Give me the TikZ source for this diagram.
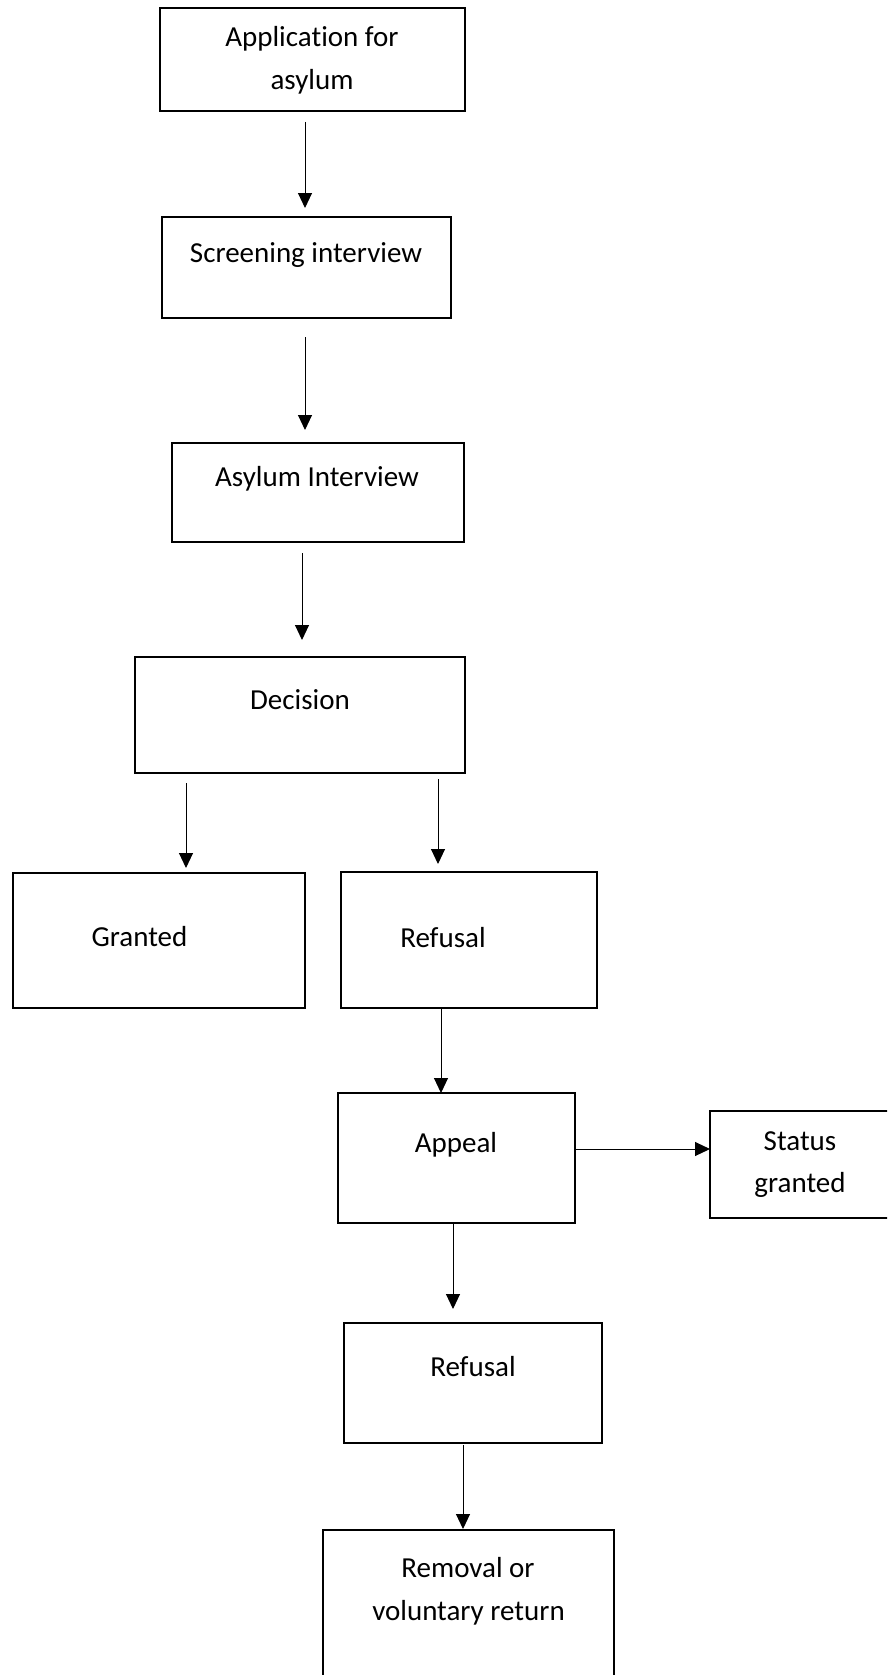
\documentclass[tikz,border=0pt]{standalone}
\usepackage{fontspec}
\setmainfont[Ligatures=NoCommon]{Carlito}
\usetikzlibrary{arrows.meta,calc}

\begin{document}
\begin{tikzpicture}[
  x=1pt, y=-1pt,
  box/.style={draw=black, line width=2pt, inner sep=0pt, outer sep=0pt},
  lbl/.style={anchor=base, inner sep=0pt, font=\fontsize{29}{43}\selectfont},
  arr/.style={line width=1pt, -{Triangle[length=15pt,width=14pt]}}
]
\useasboundingbox (0,0) rectangle (887,1675);
\fill[white] (0,0) rectangle (887,1675);
\clip (0,0) rectangle (887,1675);

% process boxes (centre, width, height in px)
\node[box, minimum width=305, minimum height=103] (app)     at (312.5,59.5)  {};
\node[box, minimum width=289, minimum height=101] (screen)  at (306.5,267.5) {};
\node[box, minimum width=292, minimum height=99]  (asyl)    at (318,492.5)   {};
\node[box, minimum width=330, minimum height=116] (dec)     at (300,715)     {};
\node[box, minimum width=292, minimum height=135] (grant)   at (159,940.5)   {};
\node[box, minimum width=256, minimum height=136] (refA)    at (469,940)     {};
\node[box, minimum width=237, minimum height=130] (appeal)  at (456.5,1158)  {};
\node[box, minimum width=210, minimum height=107] (status)  at (815,1164.5)  {};
\node[box, minimum width=258, minimum height=120] (refB)    at (473,1383)    {};
\node[box, minimum width=291, minimum height=190] (removal) at (468.5,1625)  {};

% labels
\node[lbl] (t1a) at (312,47)   {Application for};
\node[lbl] (t1b) at (312,90)   {asylum};
\node[lbl] (t2)  at (306,262)  {Screening interview};
\node[lbl] (t3)  at (317,486)  {Asylum Interview};
\node[lbl] (t4)  at (300,709)  {Decision};
\node[lbl] (t5)  at (139.5,946) {Granted};
\node[lbl] (t6)  at (443,947)  {Refusal};
\node[lbl] (t7)  at (456,1152) {Appeal};
\node[lbl] (t8a) at (800,1150) {Status};
\node[lbl] (t8b) at (800,1192) {granted};
\node[lbl] (t9)  at (473,1376) {Refusal};
\node[lbl] (t10a) at (468,1577) {Removal or};
\node[lbl] (t10b) at (468.5,1620) {voluntary return};

% connectors
\draw[arr] ($(app.south)+(-7.5,11)$)    -- ($(screen.north)+(-1.5,-9)$);
\draw[arr] ($(screen.south)+(-1.5,19)$) -- ($(asyl.north)+(-13,-13)$);
\draw[arr] ($(asyl.south)+(-16,11)$)    -- ($(dec.north)+(2,-17)$);
\draw[arr] ($(dec.south)+(-114,10)$)    -- ($(grant.north)+(27,-5)$);
\draw[arr] ($(dec.south)+(138,6)$)      -- ($(refA.north)+(-31,-8)$);
\draw[arr] ($(refA.south)+(-28,0)$)     -- ($(appeal.north)+(-15.5,0)$);
\draw[arr] ($(appeal.east)+(0,-9)$)     -- ($(status.west)+(0,-15.5)$);
\draw[arr] ($(appeal.south)+(-3.5,0)$)  -- ($(refB.north)+(-20,-14)$);
\draw[arr] ($(refB.south)+(-10,2)$)     -- ($(removal.north)+(-5.5,-1)$);
\end{tikzpicture}
\end{document}
